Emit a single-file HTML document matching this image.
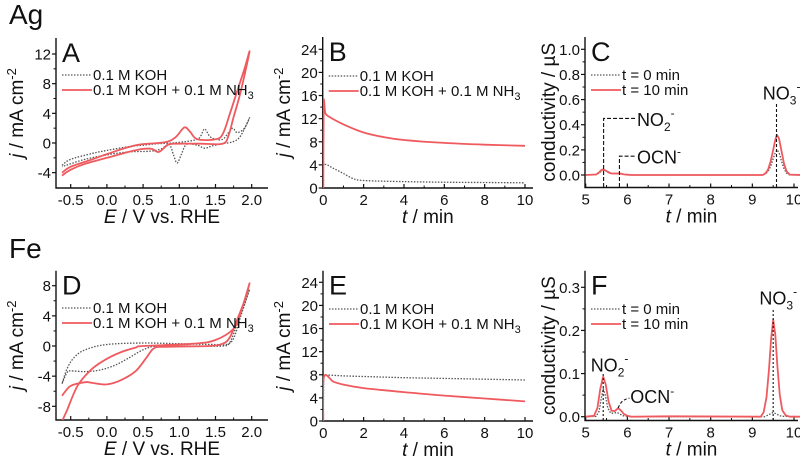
<!DOCTYPE html>
<html><head><meta charset="utf-8"><style>
body{margin:0;background:#fff;width:800px;height:462px;overflow:hidden}
svg text{font-family:"Liberation Sans",Arial,sans-serif;fill:#111}
</style></head><body>
<svg id="fig" width="800" height="462" viewBox="0 0 800 462" xmlns="http://www.w3.org/2000/svg"></svg>
<script>
// ---- Panel A (Ag CV) ----
const aKohX=[-0.62,-0.5,-0.2,0,0.3,0.5,0.7,0.9,1.1,1.25,1.3,1.35,1.42,1.5,1.6,1.68,1.74,1.8,1.9,1.97,1.85,1.75,1.6,1.45,1.35,1.25,1.1,1.03,0.97,0.92,0.86,0.75,0.6,0.3,0,-0.3,-0.5,-0.62];
const aKohY=[-3.0,-2.2,-1.4,-1.0,-0.5,-0.3,-0.1,0,0.2,0.5,1.0,1.9,0.9,0.5,0.5,1.4,2.0,1.4,2.0,3.4,1.0,0.2,-0.1,-0.4,-0.7,-0.3,-0.2,-1.5,-2.7,-1.6,-0.2,-0.8,-1.1,-1.2,-1.6,-2.2,-2.8,-3.2];
const aNh3X=[-0.62,-0.5,-0.2,0,0.4,0.8,0.95,1.07,1.15,1.25,1.5,1.6,1.7,1.8,1.9,1.97,1.85,1.75,1.68,1.6,1.3,1.0,0.85,0.72,0.62,0.5,0.3,0,-0.3,-0.5,-0.62];
const aNh3Y=[-4.0,-3.2,-2.2,-1.5,-0.3,0.1,0.8,2.1,1.5,0.5,0.5,1.2,4.0,7.0,10,12.3,7.0,3.5,1.0,-0.1,-0.1,-0.1,-0.2,-1.2,-0.8,-0.8,-1.2,-2.0,-2.8,-3.6,-4.4];
// ---- Panel B (Ag chrono) ----
const bKohX=[0,0.02,0.5,1.0,1.5,2,4,6,8,10];
const bKohY=[0,3.9,3.4,2.5,1.6,1.3,1.1,1.0,0.95,0.9];
const bNh3X=[0,0.02,0.1,0.3,1,2,3,4,6,8,10];
const bNh3Y=[0,14.6,13.0,12.3,11.0,9.6,8.8,8.3,7.8,7.5,7.3];
// ---- Panel C (Ag IC) ----
const cT0X=[5.0,5.25,5.32,5.38,5.45,5.52,5.6,5.7,5.8,5.9,6.0,6.1,9.25,9.32,9.38,9.44,9.5,9.55,9.6,9.65,9.7,9.76,9.82,9.9,10.2];
const cT0Y=[0,0.003,0.015,0.03,0.04,0.03,0.015,0.01,0.01,0.006,0.002,0,0,0.01,0.03,0.07,0.13,0.18,0.2,0.17,0.11,0.05,0.015,0,0];
const cT10X=[5.0,5.25,5.32,5.37,5.42,5.48,5.55,5.62,5.7,5.78,5.85,5.92,6.0,6.1,9.25,9.32,9.38,9.44,9.5,9.55,9.59,9.64,9.7,9.76,9.82,9.9,10.2];
const cT10Y=[0,0.004,0.02,0.038,0.045,0.035,0.02,0.012,0.012,0.013,0.01,0.005,0.002,0,0,0.015,0.045,0.11,0.2,0.28,0.32,0.29,0.19,0.09,0.03,0.003,0];
// ---- Panel D (Fe CV) ----
const dKohX=[-0.62,-0.55,-0.5,-0.3,-0.1,0.1,0.3,0.5,0.7,1.2,1.6,1.7,1.8,1.9,1.97,1.85,1.75,1.65,1.5,1.0,0.5,0,-0.3,-0.45,-0.55,-0.62];
const dKohY=[-5.0,-3.5,-3.3,-3.4,-3.2,-2.6,-1.6,-0.5,0,0,0,0.5,3.0,5.5,7.5,4.0,1.0,0.2,0.2,0.3,0.4,0.2,-0.5,-1.5,-3.0,-5.0];
const dNh3X=[-0.62,-0.5,-0.3,-0.2,0,0.2,0.4,0.55,0.65,0.8,1.4,1.6,1.7,1.8,1.9,1.97,1.85,1.75,1.5,1.2,0.5,0.4,0.2,0,-0.2,-0.4,-0.55,-0.62];
const dNh3Y=[-6.6,-5.3,-4.8,-4.9,-5.1,-4.5,-3.3,-1.5,-0.3,-0.1,0,0.3,1.2,3.5,6.0,8.3,4.5,2.3,0.8,0.3,0,-0.2,-0.8,-1.7,-3.0,-5.2,-8.5,-10];
// ---- Panel E (Fe chrono) ----
const eKohX=[0,0.02,1,4,7,10];
const eKohY=[0,8.0,7.8,7.5,7.3,7.1];
const eNh3X=[0,0.03,0.5,1,2,4,6,8,10];
const eNh3Y=[0,7.6,6.8,6.3,5.7,5.0,4.4,3.9,3.4];
// ---- Panel F (Fe IC) ----
const fT0X=[5.0,5.25,5.32,5.37,5.42,5.47,5.53,5.6,5.68,5.75,5.82,5.9,6.1,9.3,9.4,9.5,9.6,9.7,10.2];
const fT0Y=[0,0.001,0.012,0.04,0.065,0.05,0.02,0.008,0.008,0.01,0.006,0.002,0,0,0.005,0.01,0.005,0.001,0];
const fT10X=[5.0,5.2,5.28,5.35,5.42,5.48,5.55,5.62,5.7,5.78,5.85,5.92,6.0,6.1,7,9.2,9.27,9.34,9.4,9.45,9.5,9.55,9.6,9.66,9.72,9.8,9.9,10.2];
const fT10Y=[0,0.002,0.02,0.065,0.093,0.075,0.035,0.014,0.013,0.02,0.014,0.006,0.002,0,0.001,0,0.01,0.045,0.11,0.18,0.225,0.19,0.12,0.05,0.015,0.003,0,0];
// tick labels
const cvXTicks=[-0.5,0.0,0.5,1.0,1.5,2.0];
const aYTicks=[-4,0,4,8,12];
const dYTicks=[-8,-4,0,4,8];
const chronoXTicks=[0,2,4,6,8,10];
const chronoYTicks=[0,4,8,12,16,20,24];
const icXTicks=[5,6,7,8,9,10];
const cYTicks=[0.0,0.2,0.4,0.6,0.8,1.0];
const fYTicks=[0.0,0.1,0.2,0.3];

const NS="http://www.w3.org/2000/svg";
const svg=document.getElementById('fig');
const RED="#ef5a5f", GRAY="#555";
function el(tag,attrs,parent){const e=document.createElementNS(NS,tag);for(const k in attrs)e.setAttribute(k,attrs[k]);(parent||svg).appendChild(e);return e;}
function txt(x,y,s,size,anchor,parent){const t=el('text',{x:x,y:y,'font-size':size,'text-anchor':anchor||'start'},parent);t.innerHTML=s;return t;}
function smooth(pts){let d='M'+pts[0][0].toFixed(1)+','+pts[0][1].toFixed(1);
  for(let i=0;i<pts.length-1;i++){const p0=pts[Math.max(0,i-1)],p1=pts[i],p2=pts[i+1],p3=pts[Math.min(pts.length-1,i+2)];
    const c1=[p1[0]+(p2[0]-p0[0])/6,p1[1]+(p2[1]-p0[1])/6],c2=[p2[0]-(p3[0]-p1[0])/6,p2[1]-(p3[1]-p1[1])/6];
    d+=' C'+c1[0].toFixed(1)+','+c1[1].toFixed(1)+' '+c2[0].toFixed(1)+','+c2[1].toFixed(1)+' '+p2[0].toFixed(1)+','+p2[1].toFixed(1);}
  return d;}
function panel(o){
  const g=el('g',{});
  
  
  const sx=v=>o.px0+(v-o.x0)*(o.px1-o.px0)/(o.x1-o.x0);
  const sy=v=>o.py0+(v-o.y0)*(o.py1-o.py0)/(o.y1-o.y0);
  const L=o.axL,R=o.axR,T=o.axT,B=o.axB;
  const ax=el('path',{d:`M${L},${T} V${B} H${R}`,stroke:'#111','stroke-width':1.4,fill:'none'},g);
  
  
  o.yt.forEach((v,i)=>{const y=sy(v);el('line',{x1:L-4,x2:L,y1:y,y2:y,stroke:'#111','stroke-width':1.2},g);
    const t=txt(L-5,y+5.5,o.yfmt(v),15,'end',g);
    
    
    if(i<o.yt.length-1){const ym=sy((v+o.yt[i+1])/2);el('line',{x1:L-2.5,x2:L,y1:ym,y2:ym,stroke:'#111','stroke-width':1},g);}});
  o.xt.forEach((v,i)=>{const x=sx(v);el('line',{x1:x,x2:x,y1:B,y2:B-4,stroke:'#111','stroke-width':1.2},g);
    const t=txt(x,B+17,o.xfmt(v),15,'middle',g);
    
    
    if(i<o.xt.length-1){const xm=sx((v+o.xt[i+1])/2);el('line',{x1:xm,x2:xm,y1:B,y2:B-2.5,stroke:'#111','stroke-width':1},g);}});
  const xl=txt((L+R)/2,B+35,o.xlabel,19,'middle',g);
  
  
  const yl=txt(0,0,o.ylabel,19,'middle',g);
  yl.setAttribute('transform',`translate(${o.ylx},${(T+B)/2}) rotate(-90)`);
  
  
  const pl=txt(L+6,T+24,o.letter,27,'start',g);
  
  
  const cp='clip'+o.letter;
  const c=el('clipPath',{id:cp},g);el('rect',{x:L,y:T-5,width:R-L+5,height:B-T+5},c);
  o.series.forEach(s=>{const pts=s.x.map((v,i)=>[sx(v),sy(s.y[i])]);
    const p=el('path',{d:s.straight?('M'+pts.map(p=>p[0].toFixed(1)+','+p[1].toFixed(1)).join(' L')):smooth(pts),fill:'none',stroke:s.dot?GRAY:RED,'stroke-width':s.dot?1.3:1.8,'stroke-dasharray':s.dot?'1.5,1.5':'none','stroke-linejoin':'round','clip-path':`url(#${cp})`},g);
    
    });
  const lg=el('g',{},g);
  
  
  o.legend.forEach((s,i)=>{const y=o.legY+i*15;
    el('line',{x1:L+6,x2:L+36,y1:y,y2:y,stroke:i?RED:GRAY,'stroke-width':i?1.8:1.3,'stroke-dasharray':i?'none':'1.5,1.5'},lg);
    const t=txt(L+37,y+5,s,15,'start',lg);
    
    });
  return {sx,sy,g};
}
const f1=v=>v.toFixed(1), f0=v=>String(v);
const jlab='<tspan font-style="italic">j</tspan> / mA cm<tspan dy="-7" font-size="13">-2</tspan>';
const cvlab='<tspan font-style="italic">E</tspan> / V vs. RHE';
const tlab='<tspan font-style="italic">t</tspan> / min';
const clab='conductivity / µS';
const cvLeg=['0.1 M KOH','0.1 M KOH + 0.1 M NH<tspan dy="4" font-size="11">3</tspan>'];
const icLeg=['t = 0 min','t = 10 min'];
const cvX={x0:-0.5,x1:2.0,px0:70.7,px1:251.7};
const chX={x0:0,x1:10,px0:323.3,px1:525};
const icX={x0:5,x1:10,px0:585.7,px1:794};

panel(Object.assign({name:'panel-a-ag-cv',letter:'A',y0:0,y1:12,py0:143,py1:54,axL:56,axR:268,axT:38,axB:188,yt:aYTicks,xt:cvXTicks,xfmt:f1,yfmt:f0,xlabel:cvlab,ylabel:jlab,ylx:23,legY:75,legend:cvLeg,
 series:[{name:'koh-series',x:aKohX,y:aKohY,dot:1},{name:'nh3-series',x:aNh3X,y:aNh3Y}]},cvX));
panel(Object.assign({name:'panel-b-ag-chrono',letter:'B',y0:0,y1:24,py0:188,py1:49.3,axL:322.7,axR:533,axT:37,axB:188,yt:chronoYTicks,xt:chronoXTicks,xfmt:f0,yfmt:f0,xlabel:tlab,ylabel:jlab,ylx:290,legY:76,legend:cvLeg,
 series:[{name:'koh-series',x:bKohX,y:bKohY,dot:1},{name:'nh3-series',x:bNh3X,y:bNh3Y}]},chX));
const C=panel(Object.assign({name:'panel-c-ag-ic',letter:'C',y0:0,y1:1.0,py0:175,py1:49.3,axL:585,axR:798,axT:37,axB:187.5,yt:cYTicks,xt:icXTicks,xfmt:f0,yfmt:f1,xlabel:tlab,ylabel:clab,ylx:555,legY:75,legend:icLeg,
 series:[{name:'t0-series',x:cT0X,y:cT0Y,dot:1,straight:1},{name:'t10-series',x:cT10X,y:cT10Y,straight:1}]},icX));
panel(Object.assign({name:'panel-d-fe-cv',letter:'D',y0:0,y1:8,py0:346,py1:285.7,axL:56,axR:268,axT:270.7,axB:420,yt:dYTicks,xt:cvXTicks,xfmt:f1,yfmt:f0,xlabel:cvlab,ylabel:jlab,ylx:23,legY:308,legend:cvLeg,
 series:[{name:'koh-series',x:dKohX,y:dKohY,dot:1},{name:'nh3-series',x:dNh3X,y:dNh3Y}]},cvX));
panel(Object.assign({name:'panel-e-fe-chrono',letter:'E',y0:0,y1:24,py0:421,py1:282.3,axL:323,axR:533,axT:270.7,axB:421,yt:chronoYTicks,xt:chronoXTicks,xfmt:f0,yfmt:f0,xlabel:tlab,ylabel:jlab,ylx:290,legY:309,legend:cvLeg,
 series:[{name:'koh-series',x:eKohX,y:eKohY,dot:1,straight:1},{name:'nh3-series',x:eNh3X,y:eNh3Y}]},chX));
const F=panel(Object.assign({name:'panel-f-fe-ic',letter:'F',y0:0,y1:0.3,py0:416.7,py1:287.3,axL:585,axR:798,axT:270.7,axB:420.5,yt:fYTicks,xt:icXTicks,xfmt:f0,yfmt:f1,xlabel:tlab,ylabel:clab,ylx:555,legY:309,legend:icLeg,
 series:[{name:'t0-series',x:fT0X,y:fT0Y,dot:1,straight:1},{name:'t10-series',x:fT10X,y:fT10Y,straight:1}]},icX));

function ann(d,dash,name){const p=el('path',{d:d,fill:'none',stroke:'#111','stroke-width':1.1,'stroke-dasharray':dash});
  
  }
function lab(x,y,main,sub,sup,name){const t=txt(x,y,main+(sub?`<tspan dy="5" font-size="12">${sub}</tspan>`:'')+`<tspan dy="${sub?-14:-8}" font-size="12">${sup}</tspan>`,18,'start');
  
  }
ann(`M${C.sx(5.43)},187 V${C.sy(0.45)} H${C.sx(6.2)}`,'4,2','no2-marker');
ann(`M${C.sx(5.81)},187 V${C.sy(0.15)} H${C.sx(6.2)}`,'4,2','ocn-marker');
ann(`M${C.sx(9.58)},187 V${C.sy(0.57)}`,'3,2','no3-marker');
lab(C.sx(6.23),C.sy(0.39),'NO','2','-','no2-label');
lab(C.sx(6.23),C.sy(0.09),'OCN','','-','ocn-label');
lab(C.sx(9.25),C.sy(0.6),'NO','3','-','no3-label');
ann(`M${F.sx(5.42)},420 V${F.sy(0.1)}`,'2,2','no2-marker');
ann(`M${F.sx(5.78)},${F.sy(0.02)} Q${F.sx(5.85)},${F.sy(0.04)} ${F.sx(6.05)},${F.sy(0.043)}`,'3,2','ocn-marker');
ann(`M${F.sx(9.5)},420 V${F.sy(0.25)}`,'2,2','no3-marker');
lab(F.sx(5.12),F.sy(0.105),'NO','2','-','no2-label');
lab(F.sx(6.07),F.sy(0.032),'OCN','','-','ocn-label');
lab(F.sx(9.17),F.sy(0.26),'NO','3','-','no3-label');
const ag=txt(9,24,'Ag',28,'start');


const fe=txt(9,258,'Fe',28,'start');


</script>
</body></html>
